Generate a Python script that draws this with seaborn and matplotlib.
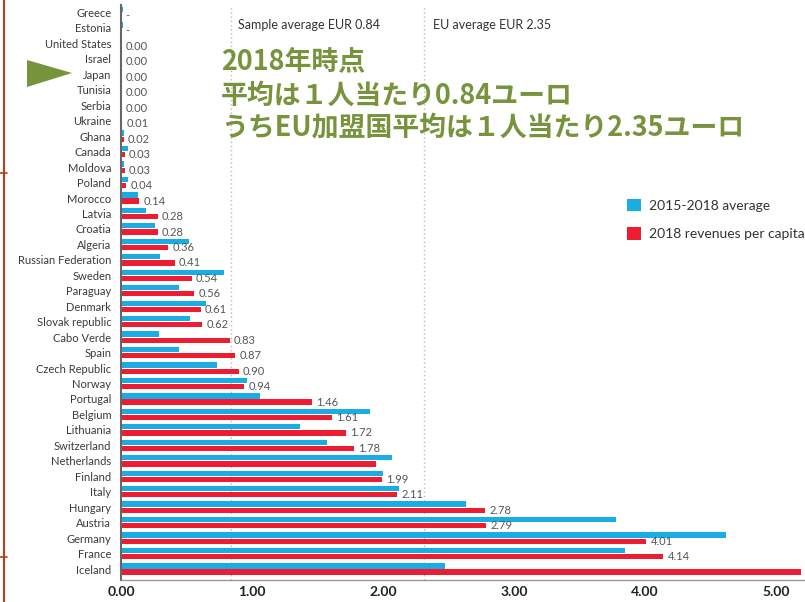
import numpy as np
import pandas as pd
import matplotlib
matplotlib.use("Agg")
import matplotlib.pyplot as plt
import seaborn as sns
from matplotlib.patches import Polygon, Patch
from matplotlib.lines import Line2D

# ---------------- data ----------------
countries = ["Greece", "Estonia", "United States", "Israel", "Japan", "Tunisia",
             "Serbia", "Ukraine", "Ghana", "Canada", "Moldova", "Poland", "Morocco",
             "Latvia", "Croatia", "Algeria", "Russian Federation", "Sweden", "Paraguay",
             "Denmark", "Slovak republic", "Cabo Verde", "Spain", "Czech Republic",
             "Norway", "Portugal", "Belgium", "Lithuania", "Switzerland", "Netherlands",
             "Finland", "Italy", "Hungary", "Austria", "Germany", "France", "Iceland"]
avg_2015_2018 = [0.015, 0.015, 0.01, 0.01, 0.01, 0.01, 0.01, 0.01, 0.02, 0.05, 0.02,
                 0.05, 0.13, 0.19, 0.26, 0.52, 0.30, 0.79, 0.44, 0.65, 0.53, 0.29, 0.44,
                 0.73, 0.96, 1.06, 1.90, 1.37, 1.57, 2.07, 2.00, 2.12, 2.63, 3.78, 4.62,
                 3.85, 2.47]
rev_2018 = [0.0, 0.0, 0.004, 0.004, 0.004, 0.004, 0.004, 0.01, 0.02, 0.03, 0.03, 0.04,
            0.14, 0.28, 0.28, 0.36, 0.41, 0.54, 0.56, 0.61, 0.62, 0.83, 0.87, 0.90, 0.94,
            1.46, 1.61, 1.72, 1.78, 1.95, 1.99, 2.11, 2.78, 2.79, 4.01, 4.14, 5.19]
no_data = ["Greece", "Estonia"]
label_hidden = ["Netherlands"]
series_names = ["2015-2018 average", "2018 revenues per capita"]
sample_avg = 0.84
eu_avg = 2.35
eu_line_at = 2.31
x_ticks = [0, 1, 2, 3, 4, 5]
note_lines = ["2018年時点", "平均は１人当たり0.84ユーロ", "うちEU加盟国平均は１人当たり2.35ユーロ"]

BLUE = "#1AADE4"
RED = "#EE1C30"
GREEN = "#77933C"

df = pd.DataFrame({
    "country": countries * 2,
    "series": [series_names[0]] * len(countries) + [series_names[1]] * len(countries),
    "value": avg_2015_2018 + rev_2018,
})

# ---------------- style ----------------
sns.set_style("white")
plt.rcParams["font.family"] = ["Lato", "DejaVu Sans"]

W, H = 805, 602
fig = plt.figure(figsize=(W / 100, H / 100), dpi=100)
ax_left, ax_bottom, ax_top = 121, 580, 4.8
ax = fig.add_axes([ax_left / W, 1 - ax_bottom / H, 5.3 * 131 / W, (ax_bottom - ax_top) / H])

sns.barplot(data=df, y="country", x="value", hue="series", orient="h",
            palette=[BLUE, RED], width=0.8, gap=0.15, saturation=1,
            errorbar=None, legend=False, ax=ax, order=countries,
            hue_order=series_names, linewidth=0)

ax.set_xlim(0, 5.3)
ax.set_ylim(len(countries) - 0.29, -0.5)
ax.set_xlabel("")
ax.set_ylabel("")

# average lines
for xv in (sample_avg, eu_line_at):
    ax.axvline(xv, color="#b8b8b8", lw=1, ls=(0, (1, 2)), zorder=0)

# value labels
labels = []
for c, v in zip(countries, rev_2018):
    if c in no_data:
        labels.append("-")
    elif c in label_hidden:
        labels.append("")
    else:
        labels.append(f"{v:.2f}")
ax.bar_label(ax.containers[1], labels=labels, padding=3, fontsize=8, color="#555555")

# axes styling
for s in ("top", "right"):
    ax.spines[s].set_visible(False)
ax.spines["left"].set_color("#666666")
ax.spines["left"].set_linewidth(1.5)
ax.spines["bottom"].set_color("#999999")
ax.spines["bottom"].set_linewidth(1)
ax.set_xticks(x_ticks)
ax.set_xticklabels([f"{t:.2f}" for t in x_ticks], fontweight="bold", fontsize=10,
                   color="#222222")
ax.tick_params(axis="x", length=3.5, color="#999999", width=1, pad=0.5)
ax.tick_params(axis="y", length=0, pad=7, labelsize=8, labelcolor="#3a3a3a")

# average texts
fig.text(238 / W, 1 - 25 / H, f"Sample average EUR {sample_avg:.2f}", fontsize=9,
         color="#333333", va="center", ha="left")
fig.text(433 / W, 1 - 25 / H, f"EU average EUR {eu_avg:.2f}", fontsize=9,
         color="#333333", va="center", ha="left")

# Japanese annotation
for line, y in zip(note_lines, [61, 96, 127]):
    fig.text(221 / W, 1 - y / H, line, fontsize=19.4, fontweight="bold", color=GREEN,
             family=["Noto Sans CJK JP", "DejaVu Sans"], va="center", ha="left")

# legend
handles = [Patch(facecolor=BLUE, edgecolor="none", label=series_names[0]),
           Patch(facecolor=RED, edgecolor="none", label=series_names[1])]
ax.legend(handles=handles, loc="upper left", bbox_to_anchor=(627 / W, 1 - 199 / H),
          bbox_transform=fig.transFigure, frameon=False, fontsize=10,
          handlelength=1.0, handleheight=1.0, handletextpad=0.6, labelspacing=1.1,
          borderpad=0, borderaxespad=0, labelcolor="#333333")

# green pointer triangle (figure decoration)
tri = Polygon([[27 / W, 1 - 60 / H], [27 / W, 1 - 87 / H], [72 / W, 1 - 73 / H]],
              closed=True, transform=fig.transFigure, facecolor=GREEN, edgecolor="none")
fig.add_artist(tri)

# left border decoration
BR = "#B0401E"
fig.add_artist(Line2D([4 / W, 4 / W], [0, 1], transform=fig.transFigure, color=BR, lw=1.5))
for yy in (173, 557):
    fig.add_artist(Line2D([0, 7 / W], [1 - yy / H, 1 - yy / H], transform=fig.transFigure,
                          color=BR, lw=1.2))

fig.savefig("out.png", dpi=100)
